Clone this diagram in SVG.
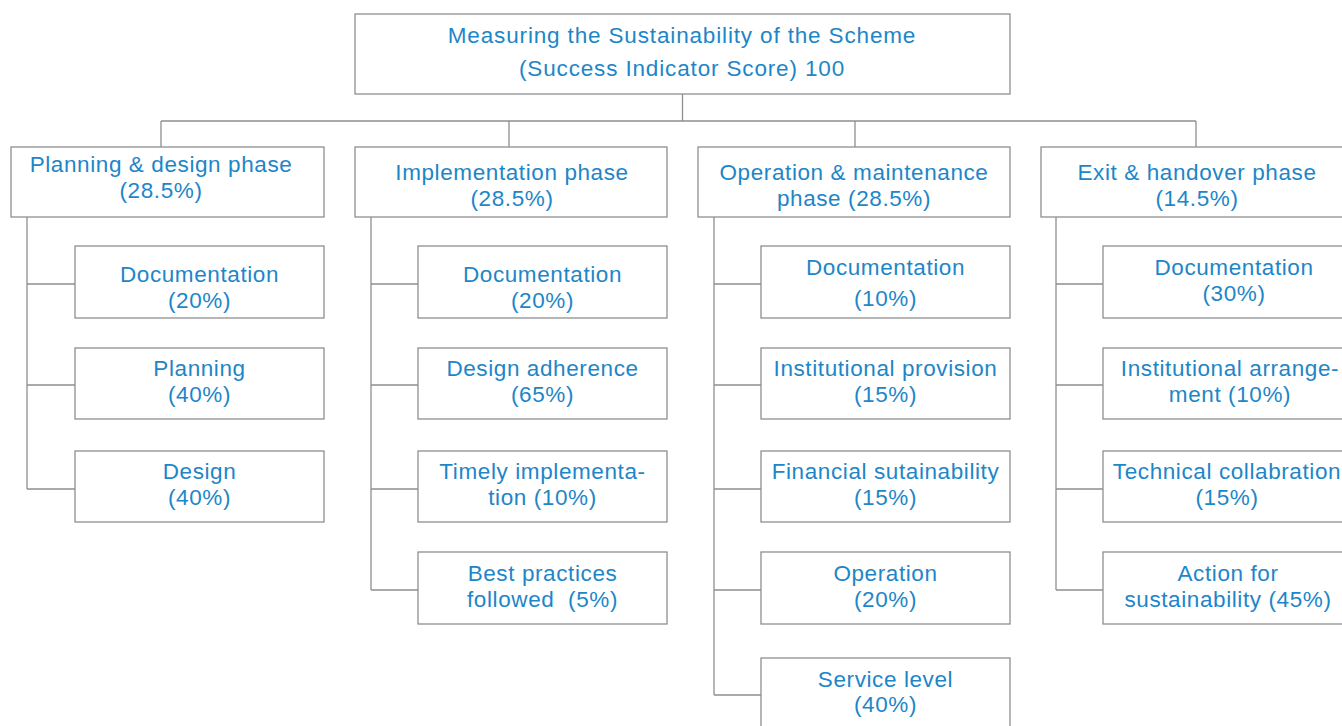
<svg xmlns="http://www.w3.org/2000/svg" width="1342" height="726" viewBox="0 0 1342 726">
<style>
.b{fill:#fff;stroke:#8f8f8f;stroke-width:1.3}
.c{fill:none;stroke:#8f8f8f;stroke-width:1.3}
text{font-family:"Liberation Sans",Arial,sans-serif;font-size:22.5px;letter-spacing:0.6px;fill:#1d86c8;text-anchor:middle}
#root text{letter-spacing:0.85px}
</style>
<rect width="1342" height="726" fill="#fff"/>
<g id="connectors">
<path class="c" d="M682.5 94V121M161 121H1196M161 121V147M509 121V147M855 121V147M1196 121V147"/>
<path class="c" d="M27 217V489M27 284H75M27 385H75M27 489H75"/>
<path class="c" d="M371 217V590M371 284H418M371 385H418M371 489H418M371 590H418"/>
<path class="c" d="M714 217V695M714 284H761M714 385H761M714 489H761M714 590H761M714 695H761"/>
<path class="c" d="M1056 217V590M1056 284H1103M1056 385H1103M1056 489H1103M1056 590H1103"/>
</g>
<g id="root"><rect class="b" x="355" y="14" width="655" height="80"/><text x="682" y="43">Measuring the Sustainability of the Scheme</text><text x="682" y="76">(Success Indicator Score) 100</text></g>
<g id="p1"><rect class="b" x="11" y="147" width="313" height="70"/><text x="161" y="172">Planning &amp; design phase</text><text x="161" y="198">(28.5%)</text></g>
<g id="p2"><rect class="b" x="355" y="147" width="312" height="70"/><text x="512" y="180">Implementation phase</text><text x="512" y="206">(28.5%)</text></g>
<g id="p3"><rect class="b" x="698" y="147" width="312" height="70"/><text x="854" y="180">Operation &amp; maintenance</text><text x="854" y="206">phase (28.5%)</text></g>
<g id="p4"><rect class="b" x="1041" y="147" width="320" height="70"/><text x="1197" y="180">Exit &amp; handover phase</text><text x="1197" y="206">(14.5%)</text></g>

<g id="c1a"><rect class="b" x="75" y="246" width="249" height="72"/><text x="199.5" y="282">Documentation</text><text x="199.5" y="308">(20%)</text></g>
<g id="c1b"><rect class="b" x="75" y="348" width="249" height="71"/><text x="199.5" y="376">Planning</text><text x="199.5" y="402">(40%)</text></g>
<g id="c1c"><rect class="b" x="75" y="451" width="249" height="71"/><text x="199.5" y="479">Design</text><text x="199.5" y="505">(40%)</text></g>

<g id="c2a"><rect class="b" x="418" y="246" width="249" height="72"/><text x="542.5" y="282">Documentation</text><text x="542.5" y="308">(20%)</text></g>
<g id="c2b"><rect class="b" x="418" y="348" width="249" height="71"/><text x="542.5" y="376">Design adherence</text><text x="542.5" y="402">(65%)</text></g>
<g id="c2c"><rect class="b" x="418" y="451" width="249" height="71"/><text x="542.5" y="479">Timely implementa-</text><text x="542.5" y="505">tion (10%)</text></g>
<g id="c2d"><rect class="b" x="418" y="552" width="249" height="72"/><text x="542.5" y="581">Best practices</text><text x="542.5" y="607" xml:space="preserve">followed  (5%)</text></g>

<g id="c3a"><rect class="b" x="761" y="246" width="249" height="72"/><text x="885.5" y="275">Documentation</text><text x="885.5" y="306">(10%)</text></g>
<g id="c3b"><rect class="b" x="761" y="348" width="249" height="71"/><text x="885.5" y="376">Institutional provision</text><text x="885.5" y="402">(15%)</text></g>
<g id="c3c"><rect class="b" x="761" y="451" width="249" height="71"/><text x="885.5" y="479">Financial sutainability</text><text x="885.5" y="505">(15%)</text></g>
<g id="c3d"><rect class="b" x="761" y="552" width="249" height="72"/><text x="885.5" y="581">Operation</text><text x="885.5" y="607">(20%)</text></g>
<g id="c3e"><rect class="b" x="761" y="658" width="249" height="80"/><text x="885.5" y="687">Service level</text><text x="885.5" y="712">(40%)</text></g>

<g id="c4a"><rect class="b" x="1103" y="246" width="260" height="72"/><text x="1234" y="275">Documentation</text><text x="1234" y="301">(30%)</text></g>
<g id="c4b"><rect class="b" x="1103" y="348" width="260" height="71"/><text x="1230" y="376">Institutional arrange-</text><text x="1230" y="402">ment (10%)</text></g>
<g id="c4c"><rect class="b" x="1103" y="451" width="260" height="71"/><text x="1227" y="479">Technical collabration</text><text x="1227" y="505">(15%)</text></g>
<g id="c4d"><rect class="b" x="1103" y="552" width="260" height="72"/><text x="1228" y="581">Action for</text><text x="1228" y="607">sustainability (45%)</text></g>
</svg>
